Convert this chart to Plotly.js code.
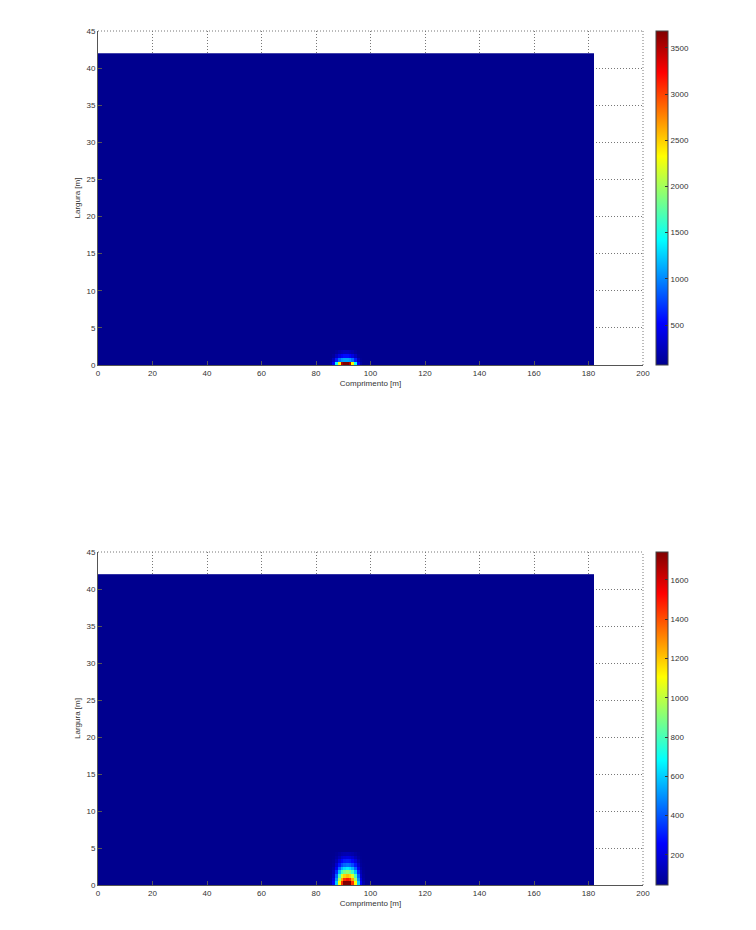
<!DOCTYPE html>
<html>
<head>
<meta charset="utf-8">
<script src="https://cdn.plot.ly/plotly-3.0.1.min.js"></script>
<style>html,body{margin:0;padding:0;background:#fff;}#chart{width:756px;height:930px;}</style>
</head>
<body>
<div id="chart"></div>
<script>
// Grid of the field (metres)
const comprimento = 182;   // length covered by the heatmap
const largura = 42;        // width covered by the heatmap
const dx = 1;
const dy = 0.5;

// Value ranges
const zRangeTop = [67, 3684];
const zRangeBottom = [47, 1742];

// Background (uniform) values
const bgTop = 67;
const bgBottom = 47;

// Hotspot patches (rows from y = 0 upward, columns starting at patchCol)
const patchColTop = 85;
const patchTop = [
  [150, 500, 1450, 2350, 3500, 3684, 3684, 3500, 2350, 1450, 500, 150],
  [ 90, 250,  600,  900, 1050, 1100, 1100, 1050,  900,  600, 250,  90],
  [ 70, 110,  250,  400,  500,  550,  550,  500,  400,  250, 110,  70],
  [ 67,  70,  110,  170,  210,  240,  240,  210,  170,  110,  70,  67]
];

const patchColBottom = 85;
const patchBottom = [
  [100, 250, 600, 1100, 1450, 1742, 1742, 1742, 1450, 1100, 600, 250, 100],
  [ 80, 200, 500,  950, 1250, 1450, 1500, 1450, 1250,  950, 500, 200,  80],
  [ 70, 150, 420,  800, 1050, 1180, 1220, 1180, 1050,  800, 420, 150,  70],
  [ 60, 120, 320,  580,  780,  880,  920,  880,  780,  580, 320, 120,  60],
  [ 55,  90, 230,  420,  560,  630,  660,  630,  560,  420, 230,  90,  55],
  [ 50,  70, 160,  290,  380,  430,  450,  430,  380,  290, 160,  70,  50],
  [ 47,  60, 110,  190,  260,  300,  310,  300,  260,  190, 110,  60,  47],
  [ 47,  52,  80,  120,  170,  190,  200,  190,  170,  120,  80,  52,  47],
  [ 47,  48,  60,   80,  100,  110,  115,  110,  100,   80,  60,  48,  47]
];

// Tick values
const xTicks = [0, 20, 40, 60, 80, 100, 120, 140, 160, 180, 200];
const yTicks = [0, 5, 10, 15, 20, 25, 30, 35, 40, 45];
const cbTicksTop = [500, 1000, 1500, 2000, 2500, 3000, 3500];
const cbTicksBottom = [200, 400, 600, 800, 1000, 1200, 1400, 1600];

// MATLAB jet colormap
const jet = [
  [0, 'rgb(0,0,143)'],
  [0.125, 'rgb(0,0,255)'],
  [0.375, 'rgb(0,255,255)'],
  [0.625, 'rgb(255,255,0)'],
  [0.875, 'rgb(255,0,0)'],
  [1, 'rgb(128,0,0)']
];

const nx = Math.round(comprimento / dx);
const ny = Math.round(largura / dy);
const xc = [];
for (let i = 0; i < nx; i++) xc.push((i + 0.5) * dx);
const yc = [];
for (let j = 0; j < ny; j++) yc.push((j + 0.5) * dy);

function buildZ(bg, patch, col0) {
  const z = [];
  for (let j = 0; j < ny; j++) {
    const row = new Array(nx).fill(bg);
    if (j < patch.length) {
      patch[j].forEach((v, k) => { row[col0 + k] = v; });
    }
    z.push(row);
  }
  return z;
}

const zTop = buildZ(bgTop, patchTop, patchColTop);
const zBottom = buildZ(bgBottom, patchBottom, patchColBottom);

const W = 756, H = 930;
const xDom = [98 / W, 643 / W];
const topDom = [(H - 365) / H, (H - 31) / H];
const botDom = [(H - 885) / H, (H - 552) / H];

const tickFont = {family: 'Liberation Sans, Arial, sans-serif', size: 8, color: '#333'};
const gridDash = '1px,2px';
const gridColor = '#777';

function cb(dom, ticks) {
  return {
    x: 656 / W, xanchor: 'left', xpad: 0,
    y: dom[0], yanchor: 'bottom', ypad: 0,
    len: dom[1] - dom[0], lenmode: 'fraction',
    thickness: 12, thicknessmode: 'pixels',
    outlinewidth: 1, outlinecolor: '#444',
    tickvals: ticks, ticks: 'inside', ticklen: 3, tickcolor: '#333',
    tickfont: tickFont, ticklabelpad: 1
  };
}

const traces = [
  {type: 'heatmap', x: xc, y: yc, z: zTop, colorscale: jet,
   zmin: zRangeTop[0], zmax: zRangeTop[1], zsmooth: false,
   xaxis: 'x', yaxis: 'y', colorbar: cb(topDom, cbTicksTop), showscale: true},
  {type: 'heatmap', x: xc, y: yc, z: zBottom, colorscale: jet,
   zmin: zRangeBottom[0], zmax: zRangeBottom[1], zsmooth: false,
   xaxis: 'x2', yaxis: 'y2', colorbar: cb(botDom, cbTicksBottom), showscale: true}
];

function xa(anchor) {
  return {
    domain: xDom, anchor: anchor, range: [0, 200], tickvals: xTicks,
    ticks: 'inside', ticklen: 4, tickcolor: '#555',
    showline: true, linecolor: '#555', linewidth: 1, mirror: false,
    showgrid: true, gridcolor: gridColor, griddash: gridDash, gridwidth: 1,
    zeroline: false, tickfont: tickFont,
    title: {text: 'Comprimento [m]', font: tickFont, standoff: 3}
  };
}
function ya(anchor, dom) {
  return {
    domain: dom, anchor: anchor, range: [0, 45], tickvals: yTicks,
    ticks: 'inside', ticklen: 4, tickcolor: '#555',
    showline: true, linecolor: '#555', linewidth: 1, mirror: false,
    showgrid: true, gridcolor: gridColor, griddash: gridDash, gridwidth: 1,
    zeroline: false, tickfont: tickFont,
    title: {text: 'Largura [m]', font: tickFont, standoff: 4}
  };
}

function borders(xr, yr) {
  const line = {color: gridColor, width: 1, dash: gridDash};
  return [
    {type: 'line', xref: xr + ' domain', yref: yr + ' domain', x0: 0, x1: 1, y0: 1, y1: 1, line: line, layer: 'below'},
    {type: 'line', xref: xr + ' domain', yref: yr + ' domain', x0: 1, x1: 1, y0: 0, y1: 1, line: line, layer: 'below'}
  ];
}

const layout = {
  width: W, height: H,
  margin: {l: 0, r: 0, t: 0, b: 0},
  paper_bgcolor: '#fff', plot_bgcolor: '#fff',
  showlegend: false,
  xaxis: xa('y'), yaxis: ya('x', topDom),
  xaxis2: xa('y2'), yaxis2: ya('x2', botDom),
  shapes: borders('x', 'y').concat(borders('x2', 'y2'))
};

Plotly.newPlot('chart', traces, layout, {displayModeBar: false, staticPlot: true});
</script>
</body>
</html>
